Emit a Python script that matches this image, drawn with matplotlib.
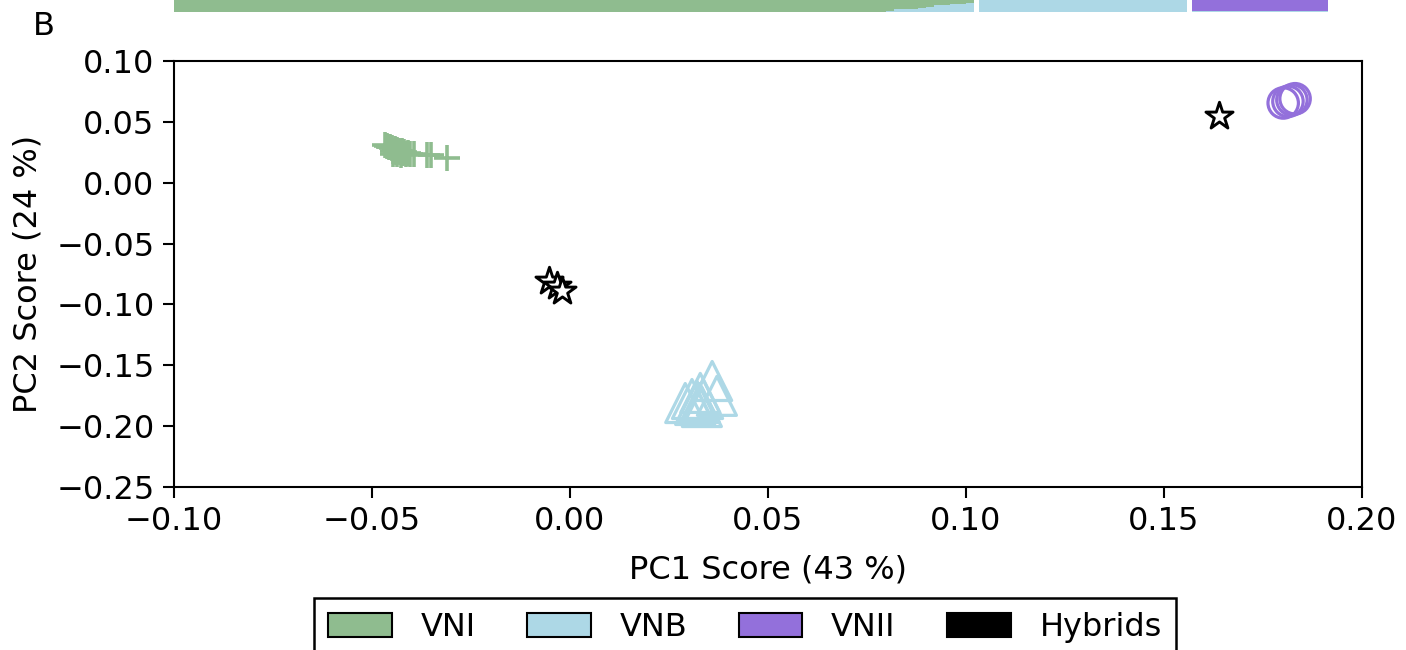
import numpy as np
import matplotlib
matplotlib.use('Agg')
import matplotlib.pyplot as plt
from matplotlib.patches import Patch
from matplotlib.ticker import FuncFormatter

plt.rcParams['font.family'] = ['DejaVu Sans']
plt.rcParams['font.size'] = 23

# 颜色
C_VNI = '#8fbc8f'
C_VNB = '#add8e6'
C_VNII = '#9370db'
C_HYB = 'black'

# PCA 得分 (PC1, PC2)
vni_pc1 = [-0.0467, -0.0462, -0.0458, -0.0455, -0.0450, -0.0447, -0.0442, -0.0440,
           -0.0436, -0.0432, -0.0429, -0.0425, -0.0422, -0.0418, -0.0414, -0.0410,
           -0.0404, -0.0394, -0.0361, -0.0351, -0.0311, -0.0446, -0.0438, -0.0428]
vni_pc2 = [0.0310, 0.0300, 0.0292, 0.0290, 0.0283, 0.0262, 0.0278, 0.0255,
           0.0270, 0.0262, 0.0250, 0.0258, 0.0244, 0.0250, 0.0240, 0.0244,
           0.0236, 0.0236, 0.0224, 0.0224, 0.0207, 0.0240, 0.0232, 0.0228]

vnb_pc1 = [0.0359, 0.0329, 0.0291, 0.0371, 0.0308, 0.0321, 0.0336, 0.0328, 0.0316, 0.0333]
vnb_pc2 = [-0.1629, -0.1727, -0.1810, -0.1751, -0.1777, -0.1793, -0.1777, -0.1810, -0.1826, -0.1843]

vnii_pc1 = [0.1801, 0.1813, 0.1823, 0.1831]
vnii_pc2 = [0.0655, 0.0668, 0.0680, 0.0690]

hyb_pc1 = [-0.0053, -0.0033, -0.0020, 0.1639]
hyb_pc2 = [-0.0808, -0.0849, -0.0890, 0.0548]

# 上方 STRUCTURE 图（只露出底部）：每个个体的祖先比例
vni_blue = [0.0] * 89 + [0.004, 0.014, 0.014, 0.014, 0.019, 0.025,
                         0.034, 0.034, 0.039, 0.039, 0.044]
vnb_blue = [1.0] * 26
vnii_blue = [0.005] * 17


def tick_fmt(v, pos):
    v = round(v, 2)
    if v == 0:
        v = 0.0
    return ('%.2f' % v).replace('-', '\u2212')


fig = plt.figure(figsize=(14.06, 6.5), dpi=100)

# 顶部条形图
ax_top = fig.add_axes([174 / 1406, 1 - 12 / 650, 1188 / 1406, 0.3])
groups = [(vni_blue, 0.0, C_VNI), (vnb_blue, 100.625, C_VNI), (vnii_blue, 127.25, C_VNII)]
for blue, start, top_color in groups:
    xs = start + np.arange(len(blue))
    blue = np.array(blue)
    ax_top.bar(xs, blue, width=1.0, align='edge', color=C_VNB, linewidth=0)
    ax_top.bar(xs, 1 - blue, bottom=blue, width=1.0, align='edge', color=top_color, linewidth=0)
ax_top.set_xlim(0, 148.5)
ax_top.set_ylim(0, 1)
ax_top.axis('off')

# PCA 散点图
ax = fig.add_axes([174 / 1406, 163 / 650, 1188 / 1406, 426 / 650])
ax.scatter(vni_pc1, vni_pc2, marker='+', s=360, color=C_VNI, linewidths=2.6, zorder=3)
ax.scatter(vnb_pc1, vnb_pc2, marker='^', s=790, facecolors='none', edgecolors=C_VNB,
           linewidths=2.3, zorder=3)
ax.scatter(vnii_pc1, vnii_pc2, marker='o', s=480, facecolors='none', edgecolors=C_VNII,
           linewidths=2.3, zorder=3)
ax.scatter(hyb_pc1, hyb_pc2, marker='*', s=420, facecolors='white', edgecolors=C_HYB,
           linewidths=2.1, zorder=4)

ax.set_xlim(-0.10, 0.20)
ax.set_ylim(-0.25, 0.10)
ax.set_xticks(np.arange(-0.10, 0.201, 0.05))
ax.set_yticks(np.arange(-0.25, 0.101, 0.05))
ax.xaxis.set_major_formatter(FuncFormatter(tick_fmt))
ax.yaxis.set_major_formatter(FuncFormatter(tick_fmt))
ax.tick_params(direction='out', length=8, width=1.5, pad=6, top=False, right=False)
for sp in ax.spines.values():
    sp.set_linewidth(1.5)
ax.set_xlabel('PC1 Score (43 %)', labelpad=12)
ax.set_ylabel('PC2 Score (24 %)', labelpad=9)

fig.text(33 / 1406, 1 - 11 / 650, 'B', ha='left', va='top', fontsize=23)

# 图例
handles = [Patch(facecolor=C_VNI, edgecolor='black', linewidth=1.5, label='VNI'),
           Patch(facecolor=C_VNB, edgecolor='black', linewidth=1.5, label='VNB'),
           Patch(facecolor=C_VNII, edgecolor='black', linewidth=1.5, label='VNII'),
           Patch(facecolor=C_HYB, edgecolor='black', linewidth=1.5, label='Hybrids')]
leg = fig.legend(handles=handles, loc='upper center', ncol=4,
                 bbox_to_anchor=(745 / 1406, 1 - 598 / 650),
                 fancybox=False, frameon=True, edgecolor='black', framealpha=1,
                 handlelength=2.0, handleheight=0.8, handletextpad=0.9,
                 columnspacing=1.6, borderpad=0.45, borderaxespad=0)
leg.get_frame().set_linewidth(1.8)

plt.savefig('out.png', dpi=100, facecolor='white')
plt.close()
